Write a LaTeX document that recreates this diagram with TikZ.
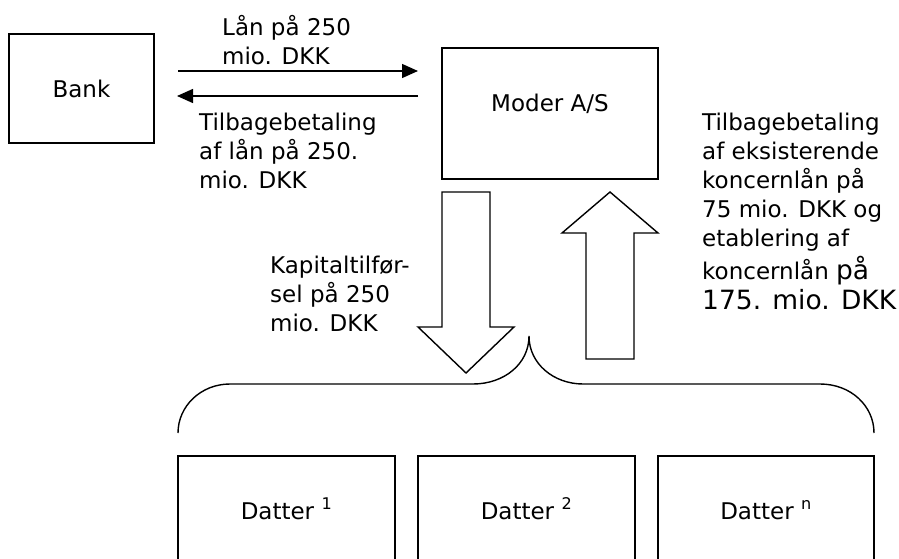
\documentclass[tikz,border=0pt]{standalone}
\usepackage{fontspec}
\setmainfont{DejaVu Sans}
\usetikzlibrary{arrows.meta,calc,positioning}

\tikzset{
  box/.style={draw,line width=1.4pt,inner sep=0pt,outer sep=0pt},
  txt/.style={font=\fontsize{23}{29}\selectfont,inner sep=0pt,align=left},
  arr/.style={line width=1.4pt,-{Triangle[length=16pt,width=14pt]}},
  bigarrow/.style={draw,line width=1.4pt,line join=miter,fill=white}
}
\newcommand{\bigger}{\fontsize{26.5}{29}\selectfont}

\begin{document}
\begin{tikzpicture}[x=1pt,y=-1pt]
  \useasboundingbox (0,0) rectangle (899,559);
  \clip (0,0) rectangle (899,559);
  % top row
  \node[box,txt,minimum width=145pt,minimum height=109pt] (bank) at (81.5,88.5) {Bank};
  \node[box,minimum width=216pt,minimum height=131pt] (moder) at (550,113.5) {};
  \node[txt] (modertxt) at ([yshift=10pt]moder.center) {Moder A/S};
  \draw[arr,shorten <=24pt,shorten >=24pt] (bank.east |- {(0,71)}) -- (moder.west |- {(0,71)});
  \draw[arr,shorten <=24pt,shorten >=23pt] (moder.west |- {(0,96)}) -- (bank.east |- {(0,96)});
  \node[txt,anchor=west] (laan) at (222,40) {Lån på 250\\mio. DKK};
  \node[txt,anchor=west] (tilbage) at (199,151) {Tilbagebetaling\\af lån på 250.\\mio. DKK};
  % block arrows
  \draw[bigarrow] (442,192) -- (490,192) -- (490,327) -- (514,327) -- (466,373)
    -- (418,327) -- (442,327) -- cycle;
  \draw[bigarrow] (586,359) -- (634,359) -- (634,233) -- (658,233) -- (610,192)
    -- (562,233) -- (586,233) -- cycle;
  \node[txt,anchor=west] (kapital) at (270,294) {Kapitaltilfør-\\sel på 250\\mio. DKK};
  \node[txt,anchor=north west] (koncern) at (702,113) {Tilbagebetaling\\af eksisterende\\koncernlån på\\75 mio. DKK og\\etablering af\\[4pt]koncernlån {\bigger på}\\[1pt]{\bigger 175. mio. DKK}};
  % brace
  \draw[line width=1.4pt] (178,433) .. controls (178,406) and (201,384) .. (230,384)
    -- (473,384) .. controls (504,384) and (529,364) .. (529,336)
    .. controls (529,364) and (554,384) .. (583,384) -- (820,384)
    .. controls (851,384) and (874,406) .. (874,433);
  % daughters
  \node[box,txt,text height=22pt,text depth=4pt,minimum width=217pt,minimum height=108pt] (d1) at (286.5,510) {Datter \textsuperscript{1}};
  \node[box,txt,text height=22pt,text depth=4pt,minimum width=217pt,minimum height=108pt,right=23pt of d1] (d2) {Datter \textsuperscript{2}};
  \node[box,txt,text height=22pt,text depth=4pt,minimum width=216pt,minimum height=108pt,right=23pt of d2] (dn) {Datter \textsuperscript{n}};
\end{tikzpicture}
\end{document}
